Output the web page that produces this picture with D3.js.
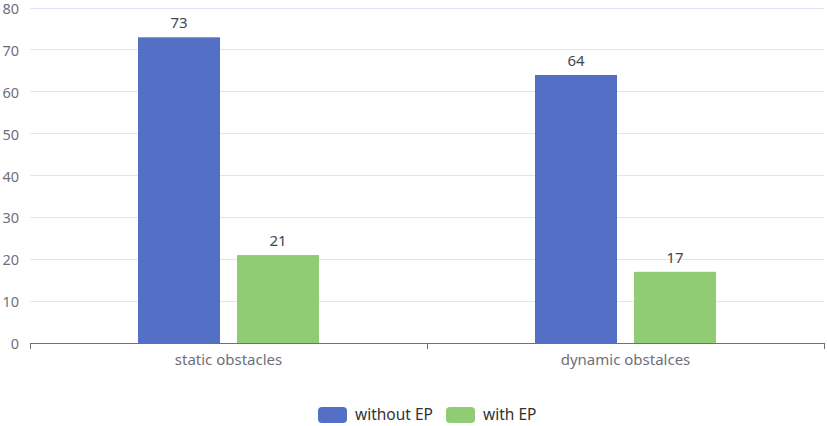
<!DOCTYPE html>
<html><head><meta charset="utf-8">
<script src="https://cdn.jsdelivr.net/npm/d3@7/dist/d3.min.js"></script>
<style>body{margin:0;background:#fff;}svg{display:block;font-family:"Noto Sans","Open Sans",sans-serif;}</style>
</head><body><svg id="c" width="827" height="426"></svg>
<script>
const categories = ["static obstacles", "dynamic obstalces"];
const seriesNames = ["without EP", "with EP"];
const withoutEP = [73, 64];
const withEP = [21, 17];
const yTicks = [0, 10, 20, 30, 40, 50, 60, 70, 80];
const colors = ["#5470c6", "#91cc75"];

const svg = d3.select("#c");
const L = 30, R = 824, T = 8, B = 343;
const x = d3.scaleBand().domain(categories).range([L, R]).padding(0);
const y = d3.scaleLinear().domain([0, 80]).range([B, T]);
const bw = x.bandwidth() * 0.2066;
const gap = bw * 0.207;
const inner = d3.scaleOrdinal().domain(seriesNames).range([-gap/2 - bw, gap/2]);

// grid
svg.append("g").selectAll("line").data(yTicks.filter(d => d > 0)).join("line")
  .attr("x1", L).attr("x2", R).attr("y1", d => y(d)).attr("y2", d => y(d))
  .attr("stroke", "#E0E6F1").attr("stroke-width", 1).attr("shape-rendering", "crispEdges");

// y labels
svg.append("g").selectAll("text").data(yTicks).join("text")
  .attr("x", 19).attr("y", d => y(d)).attr("dy", "0.42em").attr("text-anchor", "end")
  .attr("fill", "#6E7079").attr("font-size", 14.5).text(d => d);

// bars
const data = [];
categories.forEach((c, i) => {
  data.push({c, s: seriesNames[0], v: withoutEP[i], col: colors[0]});
  data.push({c, s: seriesNames[1], v: withEP[i], col: colors[1]});
});
const cx = d => x(d.c) + x.bandwidth() / 2 + inner(d.s);
svg.append("g").selectAll("rect").data(data).join("rect")
  .attr("x", cx).attr("width", bw)
  .attr("y", d => y(d.v)).attr("height", d => y(0) - y(d.v))
  .attr("fill", d => d.col);
svg.append("g").selectAll("text").data(data).join("text")
  .attr("x", d => cx(d) + bw / 2).attr("y", d => y(d.v) - 9)
  .attr("text-anchor", "middle").attr("fill", "#464646").attr("font-size", 15)
  .text(d => d.v);

// x axis
svg.append("line").attr("x1", L).attr("x2", R).attr("y1", B + 0.5).attr("y2", B + 0.5)
  .attr("stroke", "#6E7079").attr("stroke-width", 1);
const tickXs = [L, ...categories.map(c => x(c) + x.bandwidth())];
svg.append("g").selectAll("line").data(tickXs).join("line")
  .attr("x1", d => Math.round(d) + 0.5).attr("x2", d => Math.round(d) + 0.5)
  .attr("y1", B).attr("y2", B + 6).attr("stroke", "#6E7079");
svg.append("g").selectAll("text").data(categories).join("text")
  .attr("x", d => x(d) + x.bandwidth() / 2).attr("y", 365)
  .attr("text-anchor", "middle").attr("fill", "#6E7079").attr("font-size", 15).text(d => d);

// legend
const leg = svg.append("g");
const legX = [318, 446];
seriesNames.forEach((s, i) => {
  leg.append("rect").attr("x", legX[i]).attr("y", 407).attr("width", 29).attr("height", 16)
    .attr("rx", 4).attr("fill", colors[i]);
  leg.append("text").attr("x", legX[i] + 37).attr("y", 415).attr("dy", "0.35em")
    .attr("fill", "#333").attr("font-size", 15.5).text(s);
});
</script></body></html>
